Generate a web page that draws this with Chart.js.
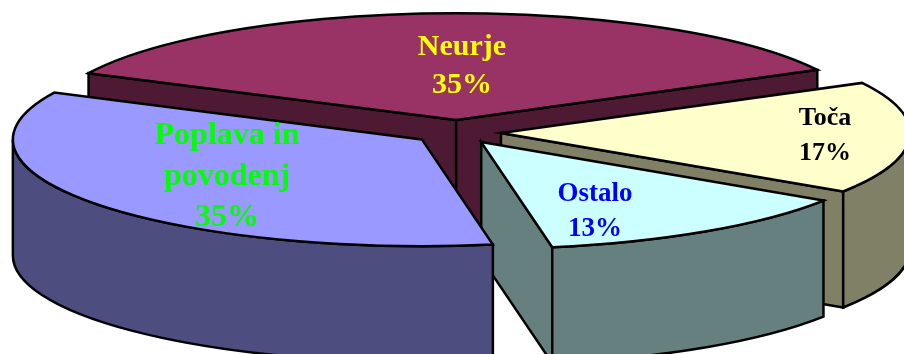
<!DOCTYPE html>
<html>
<head>
<meta charset="utf-8">
<style>
  html, body { margin: 0; padding: 0; background: #fff; overflow: hidden; }
  canvas { display: block; }
</style>
<script src="https://cdn.jsdelivr.net/npm/chart.js@4"></script>
</head>
<body>
<canvas id="pie" width="904" height="354"></canvas>
<script>
const categories = ['Neurje', 'Toča', 'Ostalo', 'Poplava in povodenj'];
const shares = [35, 17, 13, 35];

const topColors = ['#993366', '#FFFFCC', '#CCFFFF', '#9999FF'];
const wallColors = ['#4D1933', '#808066', '#668080', '#4D4D80'];
const textColors = ['#FFFF00', '#000000', '#0000FF', '#00FF00'];

// Wrapped category names for the labels
const labelLines = [['Neurje'], ['Toča'], ['Ostalo'], ['Poplava in', 'povodenj']];

// Label layout: centre x, first baseline, font size, line height
const labelLayout = [
    { x: 462, y: 55, size: 30, lead: 38 },
    { x: 825, y: 125, size: 26, lead: 35 },
    { x: 595, y: 201, size: 27, lead: 35 },
    { x: 227, y: 144, size: 32, lead: 41 }
];

// Pie projection
const CENTER_X = 457;
const CENTER_Y = 132.5;
const SQUASH = 0.261;
const DEPTH = 116;
const explode = [48, 44, 44, 44];

/**
 * Fill and outline one closed path built by the callback
 */
function paintFace(ctx, color, buildPath) {
    ctx.beginPath();
    buildPath();
    ctx.closePath();
    if (color) {
        ctx.fillStyle = color;
        ctx.fill();
    }
    ctx.stroke();
}

/**
 * Draw the visible side faces of a slice
 */
function drawWalls(ctx, arc, cx, cy, color) {
    const r = arc.outerRadius;
    const start = arc.startAngle;
    const end = arc.endAngle;

    const cutFace = angle => () => {
        const ex = cx + Math.cos(angle) * r;
        const ey = cy + Math.sin(angle) * r * SQUASH;
        ctx.moveTo(cx, cy);
        ctx.lineTo(ex, ey);
        ctx.lineTo(ex, ey + DEPTH);
        ctx.lineTo(cx, cy + DEPTH);
    };

    // A cut face looks towards the viewer only on one side of the pie
    if (Math.cos(start) < 0) paintFace(ctx, color, cutFace(start));
    if (Math.cos(end) > 0) paintFace(ctx, color, cutFace(end));

    // Rounded outer wall, only along the front half of the ellipse
    for (let turn = 0; turn < 2; turn++) {
        const from = Math.max(start, turn * 2 * Math.PI);
        const to = Math.min(end, turn * 2 * Math.PI + Math.PI);
        if (to <= from) continue;
        paintFace(ctx, color, () => {
            ctx.ellipse(cx, cy, r, r * SQUASH, 0, from, to);
            ctx.ellipse(cx, cy + DEPTH, r, r * SQUASH, 0, to, from, true);
        });
    }
}

const pie3d = {
    id: 'pie3d',
    beforeDatasetDraw(chart, args) {
        const ctx = chart.ctx;
        ctx.save();
        ctx.lineWidth = 2.5;
        ctx.lineJoin = 'miter';
        ctx.strokeStyle = '#000';

        // Back to front, each slice covers the ones before it
        args.meta.data.forEach((arc, i) => {
            const mid = (arc.startAngle + arc.endAngle) / 2;
            const cx = CENTER_X + Math.cos(mid) * explode[i];
            const cy = CENTER_Y + Math.sin(mid) * explode[i] * SQUASH;

            drawWalls(ctx, arc, cx, cy, wallColors[i]);

            ctx.save();
            ctx.translate(cx, cy);
            ctx.scale(1, SQUASH);
            ctx.translate(-arc.x, -arc.y);
            arc.draw(ctx);
            ctx.restore();

            paintFace(ctx, null, () => {
                ctx.moveTo(cx, cy);
                ctx.ellipse(cx, cy, arc.outerRadius, arc.outerRadius * SQUASH, 0, arc.startAngle, arc.endAngle);
            });
        });
        ctx.restore();

        // Labels stay on top of every slice
        ctx.save();
        ctx.textAlign = 'center';
        shares.forEach((share, i) => {
            const { x, y, size, lead } = labelLayout[i];
            ctx.font = `bold ${size}px "Liberation Serif"`;
            ctx.fillStyle = textColors[i];
            [...labelLines[i], share + '%'].forEach((line, row) => {
                ctx.fillText(line, x, y + row * lead);
            });
        });
        ctx.restore();

        return false;
    }
};

new Chart(document.getElementById('pie'), {
    type: 'pie',
    data: {
        labels: categories,
        datasets: [{
            data: shares,
            backgroundColor: topColors,
            borderWidth: 0
        }]
    },
    options: {
        responsive: false,
        animation: false,
        rotation: 296,
        radius: 409,
        plugins: {
            legend: { display: false },
            tooltip: { enabled: false }
        }
    },
    plugins: [pie3d]
});
</script>
</body>
</html>
